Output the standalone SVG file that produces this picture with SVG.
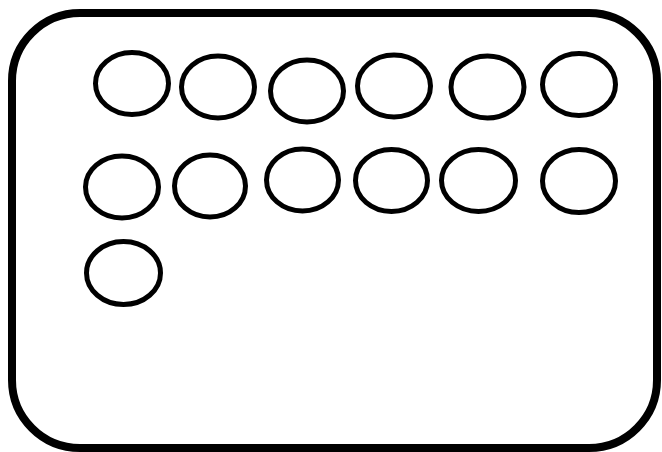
<svg xmlns="http://www.w3.org/2000/svg" width="662" height="452" viewBox="0 0 662 452">
<style>
.frame{fill:#fff;stroke:#000;stroke-width:8}
.n{fill:#fff;stroke:#000;stroke-width:5}
</style>
<rect x="0" y="0" width="662" height="452" fill="#fff"/>
<g id="container"><rect class="frame" x="12" y="13" width="645" height="435" rx="68" ry="68"/></g>
<g id="n1"><ellipse class="n" cx="132" cy="83.5" rx="36.5" ry="31"/></g>
<g id="n2"><ellipse class="n" cx="218" cy="87" rx="36.5" ry="31"/></g>
<g id="n3"><ellipse class="n" cx="307" cy="91" rx="36.5" ry="31"/></g>
<g id="n4"><ellipse class="n" cx="394" cy="86" rx="36.5" ry="31"/></g>
<g id="n5"><ellipse class="n" cx="487.5" cy="87" rx="36.5" ry="31"/></g>
<g id="n6"><ellipse class="n" cx="579" cy="84.5" rx="36.5" ry="31"/></g>
<g id="n7"><ellipse class="n" cx="122" cy="187" rx="36.5" ry="31"/></g>
<g id="n8"><ellipse class="n" cx="210" cy="186" rx="35.5" ry="31"/></g>
<g id="n9"><ellipse class="n" cx="302.5" cy="180" rx="36" ry="31"/></g>
<g id="n10"><ellipse class="n" cx="391.5" cy="180.5" rx="36" ry="31"/></g>
<g id="n11"><ellipse class="n" cx="478.5" cy="180.5" rx="37" ry="31"/></g>
<g id="n12"><ellipse class="n" cx="579" cy="181" rx="36.5" ry="31.5"/></g>
<g id="n13"><ellipse class="n" cx="123.5" cy="273" rx="37" ry="31.5"/></g>
<g id="connectors"></g>
</svg>
